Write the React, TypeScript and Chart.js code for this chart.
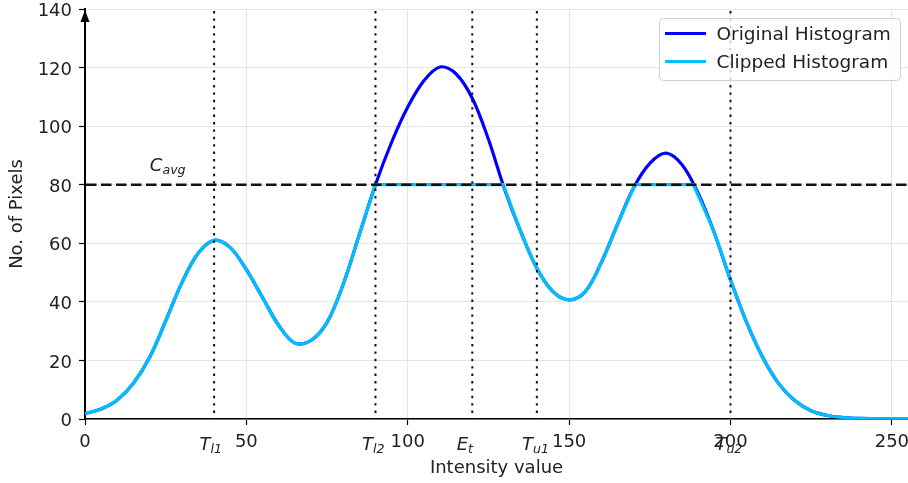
import React, { useEffect, useRef } from 'react';
import { Chart, registerables } from 'chart.js';

Chart.register(...registerables);

const FONT = '"DejaVu Sans", sans-serif';

// Original histogram
const origX = [0, 5, 10, 15, 20, 25, 30, 35, 40, 45, 50, 55, 60, 65, 70, 75, 80, 85, 90, 95, 100, 105, 110, 115, 120, 125, 130, 135, 140, 145, 150, 155, 160, 165, 170, 175, 180, 185, 190, 195, 200, 205, 210, 215, 220, 225, 230, 235, 240, 245, 250, 255];
const origY = [1.8, 3.4, 6.5, 12.2, 21, 33.5, 46.5, 56.5, 61, 58.5, 51, 41.5, 32, 25.9, 26.8, 33, 46, 63, 80, 94.5, 106.5, 115.5, 120.2, 117.8, 109.5, 95.5, 78.5, 64, 51.5, 43.5, 40.7, 43.5, 53.5, 66.5, 79, 87.3, 90.8, 86.8, 77, 63.5, 47.5, 33, 21, 12, 6.2, 2.8, 1.2, 0.5, 0.2, 0.1, 0, 0];

// Clipped histogram (corner points repeated so the flat parts meet the curve with a corner)
const clipX = [0, 5, 10, 15, 20, 25, 30, 35, 40, 45, 50, 55, 60, 65, 70, 75, 80, 85, 90, 90, 129.6, 129.6, 135, 140, 145, 150, 155, 160, 165, 170.4, 170.4, 188.5, 188.5, 195, 200, 205, 210, 215, 220, 225, 230, 235, 240, 245, 250, 255];
const clipY = [1.8, 3.4, 6.5, 12.2, 21, 33.5, 46.5, 56.5, 61, 58.5, 51, 41.5, 32, 25.9, 26.8, 33, 46, 63, 80, 80, 80, 80, 64, 51.5, 43.5, 40.7, 43.5, 53.5, 66.5, 80, 80, 80, 80, 63.5, 47.5, 33, 21, 12, 6.2, 2.8, 1.2, 0.5, 0.2, 0.1, 0, 0];

const xTicks = [0, 50, 100, 150, 200, 250];
const yTicks = [0, 20, 40, 60, 80, 100, 120, 140];

const thresholdX = [40, 90, 120, 140, 200];
const thresholdLabelX = [39, 89.3, 117.7, 139.6, 199.5];
const thresholdMain = ['T', 'T', 'E', 'T', 'T'];
const thresholdSub = ['l1', 'l2', 't', 'u1', 'u2'];

const clipLevel = 80;
const cavgMain = 'C';
const cavgSub = 'avg';
const cavgPos = { x: 20.1, y: 84.8 };

const seriesNames = ['Original Histogram', 'Clipped Histogram'];
const seriesColors = ['#0000ff', '#00bfff'];

function drawSubLabel(ctx: CanvasRenderingContext2D, main: string, sub: string, x: number, y: number, center: boolean) {
  ctx.font = `italic 18px ${FONT}`;
  const w1 = ctx.measureText(main).width;
  ctx.font = `italic 12.6px ${FONT}`;
  const w2 = ctx.measureText(sub).width;
  const start = center ? x - (w1 + w2) / 2 : x;
  ctx.textAlign = 'left';
  ctx.textBaseline = 'alphabetic';
  ctx.font = `italic 18px ${FONT}`;
  ctx.fillText(main, start, y);
  ctx.font = `italic 12.6px ${FONT}`;
  ctx.fillText(sub, start + w1, y + 3.5);
}

const overlayPlugin = {
  id: 'overlay',
  afterDatasetsDraw(chart: any) {
    const { ctx, chartArea: a, scales } = chart;
    const x = scales.x;
    const y = scales.y;
    ctx.save();
    ctx.strokeStyle = '#111';
    ctx.lineWidth = 2;
    ctx.setLineDash([2.4, 5]);
    thresholdX.forEach((v) => {
      const px = x.getPixelForValue(v);
      ctx.beginPath();
      ctx.moveTo(px, a.top + 2);
      ctx.lineTo(px, a.bottom);
      ctx.stroke();
    });
    ctx.strokeStyle = '#111';
    ctx.lineWidth = 2.5;
    ctx.setLineDash([10.5, 4.5]);
    const py = y.getPixelForValue(clipLevel);
    ctx.beginPath();
    ctx.moveTo(a.left + 1, py);
    ctx.lineTo(a.right, py);
    ctx.stroke();
    ctx.setLineDash([]);
    ctx.fillStyle = '#222';
    drawSubLabel(ctx, cavgMain, cavgSub, x.getPixelForValue(cavgPos.x), y.getPixelForValue(cavgPos.y), false);
    ctx.restore();
  },
  afterDraw(chart: any) {
    const { ctx, chartArea: a, scales } = chart;
    const x = scales.x;
    ctx.save();
    ctx.fillStyle = '#222';
    thresholdLabelX.forEach((v, i) => {
      drawSubLabel(ctx, thresholdMain[i], thresholdSub[i], x.getPixelForValue(v), 449.5, true);
    });
    ctx.fillStyle = '#000';
    ctx.beginPath();
    ctx.moveTo(a.left, a.top + 1);
    ctx.lineTo(a.left - 4.5, a.top + 13);
    ctx.lineTo(a.left + 4.5, a.top + 13);
    ctx.closePath();
    ctx.fill();
    const bx = 659.5, by = 18.5, bw = 241, bh = 62, r = 4;
    ctx.beginPath();
    ctx.moveTo(bx + r, by);
    ctx.lineTo(bx + bw - r, by);
    ctx.arcTo(bx + bw, by, bx + bw, by + r, r);
    ctx.lineTo(bx + bw, by + bh - r);
    ctx.arcTo(bx + bw, by + bh, bx + bw - r, by + bh, r);
    ctx.lineTo(bx + r, by + bh);
    ctx.arcTo(bx, by + bh, bx, by + bh - r, r);
    ctx.lineTo(bx, by + r);
    ctx.arcTo(bx, by, bx + r, by, r);
    ctx.closePath();
    ctx.fillStyle = 'rgba(255,255,255,0.8)';
    ctx.fill();
    ctx.strokeStyle = '#d0d0d0';
    ctx.lineWidth = 1;
    ctx.stroke();
    const rows = [33.5, 61.5];
    seriesNames.forEach((name, i) => {
      ctx.strokeStyle = seriesColors[i];
      ctx.lineWidth = 3;
      ctx.beginPath();
      ctx.moveTo(665, rows[i]);
      ctx.lineTo(706, rows[i]);
      ctx.stroke();
      ctx.fillStyle = '#222';
      ctx.font = `18.5px ${FONT}`;
      ctx.textAlign = 'left';
      ctx.textBaseline = 'alphabetic';
      ctx.fillText(name, 716.5, rows[i] + 6.5);
    });
    ctx.restore();
  },
};

export default function App() {
  const ref = useRef<HTMLCanvasElement | null>(null);
  useEffect(() => {
    if (!ref.current) return;
    const tickFont = { family: FONT, size: 18 };
    const chart = new Chart(ref.current, {
      type: 'line',
      data: {
        datasets: [
          {
            label: seriesNames[0],
            data: origX.map((v, i) => ({ x: v, y: origY[i] })),
            borderColor: seriesColors[0],
            borderWidth: 3.2,
            pointRadius: 0,
            tension: 0.35,
            fill: false,
            order: 2,
          },
          {
            label: seriesNames[1],
            data: clipX.map((v, i) => ({ x: v, y: clipY[i] })),
            borderColor: seriesColors[1],
            borderWidth: 3.2,
            pointRadius: 0,
            tension: 0.35,
            fill: false,
            order: 1,
          },
        ],
      } as any,
      options: {
        responsive: false,
        animation: false,
        events: [],
        layout: { padding: { top: 9, left: 0, right: 0, bottom: 0 } },
        plugins: { legend: { display: false }, tooltip: { enabled: false } },
        scales: {
          x: {
            type: 'linear',
            min: 0,
            max: 255,
            afterBuildTicks: (s: any) => {
              s.ticks = xTicks.map((v) => ({ value: v }));
            },
            afterFit: (s: any) => {
              s.height = 64;
              s.paddingLeft = 0;
              s.paddingRight = 0;
            },
            grid: { color: '#e6e6e6', lineWidth: 1, tickColor: '#000', tickLength: 6, tickWidth: 1.2 },
            border: { color: '#000', width: 1.5 },
            ticks: { font: tickFont, color: '#222', padding: 7, maxRotation: 0, autoSkip: false },
            title: { display: true, text: 'Intensity value', font: tickFont, color: '#222', padding: { top: 0, bottom: 4 } },
          },
          y: {
            type: 'linear',
            min: 0,
            max: 140,
            afterBuildTicks: (s: any) => {
              s.ticks = yTicks.map((v) => ({ value: v }));
            },
            afterFit: (s: any) => {
              s.width = 85;
              s.paddingTop = 0;
              s.paddingBottom = 0;
            },
            grid: { color: '#e6e6e6', lineWidth: 1, tickColor: '#000', tickLength: 6, tickWidth: 1.2 },
            border: { color: '#000', width: 2 },
            ticks: { font: tickFont, color: '#222', padding: 7, autoSkip: false, labelOffset: 2.5 },
            title: { display: true, text: 'No. of Pixels', font: tickFont, color: '#222', padding: { top: 7, bottom: 0 } },
          },
        },
      } as any,
      plugins: [overlayPlugin],
    });
    return () => chart.destroy();
  }, []);
  return (
    <div style={{ position: 'fixed', left: 0, top: 0, width: 908, height: 483, background: '#fff' }}>
      <canvas ref={ref} width={908} height={483} style={{ display: 'block' }} />
    </div>
  );
}
